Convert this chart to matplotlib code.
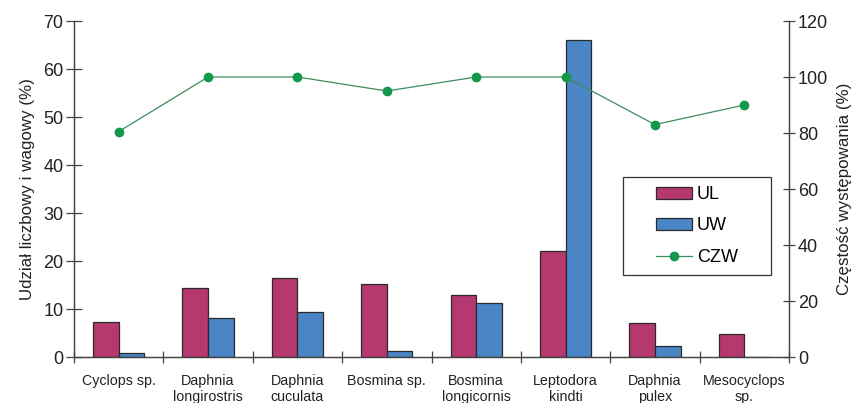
import matplotlib
matplotlib.use('Agg')
from matplotlib import pyplot as plt
from matplotlib.patches import Rectangle
import numpy as np

plt.rcParams['font.family'] = ['Liberation Sans', 'DejaVu Sans']

# species and their shares
species = ['Cyclops sp.', 'Daphnia\nlongirostris', 'Daphnia\ncuculata', 'Bosmina sp.',
           'Bosmina\nlongicornis', 'Leptodora\nkindti', 'Daphnia\npulex', 'Mesocyclops\nsp.']
ul = [7.2, 14.4, 16.5, 15.3, 12.9, 22.0, 7.0, 4.7]
uw = [0.9, 8.2, 9.4, 1.3, 11.3, 66.1, 2.3, 0.1]
czw = [80.5, 100, 100, 95, 100, 100, 83, 90]

ul_col = '#b5386f'
uw_col = '#4a86c5'
line_col = '#3d8c5c'
dot_col = '#13994a'
axis_col = '#444444'
W, H = 856, 403

fig = plt.figure(figsize=(W/100, H/100), dpi=100)
ax = fig.add_axes([74/W, 1 - 357/H, (789 - 74)/W, (357 - 21)/H])
ax2 = ax.twinx()

x = np.arange(len(species))
w = 0.287
b1 = ax.bar(x - w/2, ul, w, color=ul_col, edgecolor='#2a2a2a', linewidth=0.9, label='UL')
b2 = ax.bar(x + w/2, uw, w, color=uw_col, edgecolor='#2a2a2a', linewidth=0.9, label='UW')
l1, = ax2.plot(x, czw, color=line_col, linewidth=0.9, marker='o', markersize=6,
               markerfacecolor=dot_col, markeredgecolor=dot_col, label='CZW')

ax.set_xlim(-0.5, len(species) - 0.5)
ax.set_ylim(0, 70)
ax2.set_ylim(0, 120)
ax.set_yticks(range(0, 71, 10))
ax2.set_yticks(range(0, 121, 20))

# category boundaries as ticks, labels centered under each group
ax.set_xticks(np.arange(-0.5, len(species), 1))
ax.set_xticklabels([])
ax.set_xticks(x, minor=True)
ax.set_xticklabels(species, minor=True, fontsize=10.3, color='#222222')
ax.tick_params(axis='x', which='major', direction='inout', length=8, width=0.9, color=axis_col)
ax.tick_params(axis='x', which='minor', length=0, pad=12)

ax.tick_params(axis='y', direction='inout', length=11, width=0.9, color=axis_col,
               labelsize=13, labelcolor='#222222', pad=2)
ax2.tick_params(axis='y', direction='inout', length=9, width=0.9, color=axis_col,
                labelsize=13, labelcolor='#222222', pad=2)

for a in (ax, ax2):
    a.spines['top'].set_visible(False)
    for s in ('left', 'right', 'bottom'):
        a.spines[s].set_color(axis_col)
        a.spines[s].set_linewidth(0.9)

ax.set_ylabel('Udział liczbowy i wagowy (%)', fontsize=12.2, color='#222222', labelpad=6)
ax2.set_ylabel('Częstość występowania (%)', fontsize=12.2, color='#222222', labelpad=6)

# legend box drawn separately, entries centered inside it
box_x0, box_y0, box_x1, box_y1 = 623, 177, 771, 275
fig.patches.append(Rectangle((box_x0/W, 1 - box_y1/H), (box_x1 - box_x0)/W, (box_y1 - box_y0)/H,
                             transform=fig.transFigure, facecolor='white',
                             edgecolor='#333333', linewidth=0.9, zorder=5))
leg = fig.legend([b1, b2, l1], ['UL', 'UW', 'CZW'], loc='center',
                 bbox_to_anchor=((box_x0 + box_x1)/2/W, 1 - (box_y0 + box_y1)/2/H),
                 fontsize=13, frameon=False,
                 handlelength=2.0, handleheight=0.6, handletextpad=0.28,
                 labelspacing=0.78, borderpad=0)
leg.set_zorder(6)

fig.savefig('out.png', dpi=100)
